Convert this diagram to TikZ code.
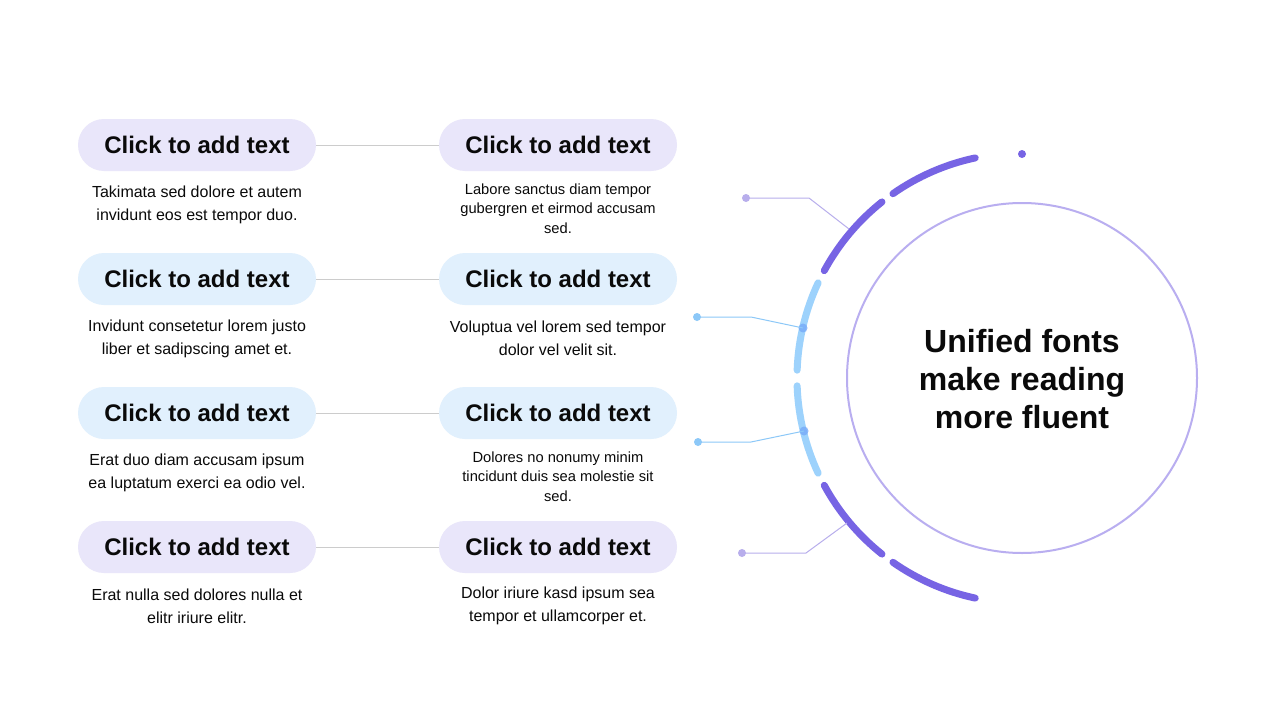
\documentclass[tikz,border=0pt]{standalone}
\usepackage{fontspec}
\setmainfont{Liberation Sans}
\definecolor{segpurple}{HTML}{7764E4}
\definecolor{segblue}{HTML}{9DD2FC}
\definecolor{ringlav}{HTML}{B9AEF0}
\definecolor{pilllav}{HTML}{E9E6FA}
\definecolor{pillblue}{HTML}{E1F0FD}
\definecolor{linkgrey}{HTML}{CCCCCC}
\definecolor{leadlav}{HTML}{B8AEEC}
\definecolor{leadblue}{HTML}{8CC8F8}
\definecolor{txt}{HTML}{0A0A0A}
\begin{document}
\begin{tikzpicture}[x=1pt,y=-1pt,
  pill/.style={rectangle,rounded corners=26pt,minimum width=238pt,minimum height=52pt,inner sep=0pt,
    font=\fontsize{24}{29}\selectfont\bfseries,text=txt},
  lavpill/.style={pill,fill=pilllav},
  bluepill/.style={pill,fill=pillblue},
  body/.style={align=center,inner sep=0pt,text=txt,font=\fontsize{16}{23}\selectfont},
  bodysmall/.style={align=center,inner sep=0pt,text=txt,font=\fontsize{14.7}{19.5}\selectfont},
  link/.style={draw=linkgrey,line width=1pt},
  seg/.style={line width=7pt,line cap=round},
  leadL/.style={draw=leadlav,line width=1pt},
  leadB/.style={draw=leadblue,line width=1pt},
  dotL/.style={circle,fill=leadlav,inner sep=0pt,minimum size=8pt},
  dotB/.style={circle,fill=leadblue,inner sep=0pt,minimum size=8pt},
  dotArc/.style={circle,fill=leadblue!85!blue,fill opacity=0.8,inner sep=0pt,minimum size=9pt}
]
\useasboundingbox[fill=white] (0,0) rectangle (1280,720);

% pills
\node[lavpill]  (l1) at (197,145) {Click to add text};
\node[lavpill]  (r1) at (558,145) {Click to add text};
\node[bluepill] (l2) at (197,279) {Click to add text};
\node[bluepill] (r2) at (558,279) {Click to add text};
\node[bluepill] (l3) at (197,413) {Click to add text};
\node[bluepill] (r3) at (558,413) {Click to add text};
\node[lavpill]  (l4) at (197,547) {Click to add text};
\node[lavpill]  (r4) at (558,547) {Click to add text};
\draw[link] (l1) -- (r1);
\draw[link] (l2) -- (r2);
\draw[link] (l3) -- (r3);
\draw[link] (l4) -- (r4);

% body texts
\node[body] (tl1) at (197,204.5) {Takimata sed dolore et autem\\invidunt eos est tempor duo.};
\node[bodysmall] (tr1) at (558,208.5) {Labore sanctus diam tempor\\gubergren et eirmod accusam\\sed.};
\node[body] (tl2) at (197,338.5) {Invidunt consetetur lorem justo\\liber et sadipscing amet et.};
\node[body] (tr2) at (558,338) {Voluptua vel lorem sed tempor\\dolor vel velit sit.};
\node[body] (tl3) at (197,472.5) {Erat duo diam accusam ipsum\\ea luptatum exerci ea odio vel.};
\node[bodysmall] (tr3) at (558,476.5) {Dolores no nonumy minim\\tincidunt duis sea molestie sit\\sed.};
\node[body] (tl4) at (197,606) {Erat nulla sed dolores nulla et\\elitr iriure elitr.};
\node[body] (tr4) at (558,606) {Dolor iriure kasd ipsum sea\\tempor et ullamcorper et.};

% central circle
\coordinate (c) at (1022,378);
\node[circle,draw=ringlav,line width=2pt,minimum size=350pt,inner sep=0pt] (ring) at (c) {};
\node[align=center,text=txt,font=\fontsize{32}{38}\selectfont\bfseries] (title) at (1022,379)
  {Unified fonts\\make reading\\more fluent};

% outer segmented arc
\draw[seg,segpurple] ([shift={(102:225)}]c) arc[start angle=102,end angle=125,radius=225];
\draw[seg,segpurple] ([shift={(128.5:225)}]c) arc[start angle=128.5,end angle=151.5,radius=225];
\draw[seg,segblue]   ([shift={(155:225)}]c) arc[start angle=155,end angle=178,radius=225];
\draw[seg,segblue]   ([shift={(182:225)}]c) arc[start angle=182,end angle=205,radius=225];
\draw[seg,segpurple] ([shift={(208.5:225)}]c) arc[start angle=208.5,end angle=231.5,radius=225];
\draw[seg,segpurple] ([shift={(235:225)}]c) arc[start angle=235,end angle=258,radius=225];
\node[circle,fill=segpurple,inner sep=0pt,minimum size=8pt] (topdot) at (1022,154) {};

% leader lines
\node[dotL] (d1) at (746,198) {};
\coordinate (b1) at (809,198);
\coordinate (e1) at (849,229);
\draw[leadL] (d1.center) -- (b1) -- (e1);

\node[dotB] (d2) at (697,317) {};
\coordinate (b2) at (751,317);
\node[dotArc] (e2) at (803,328) {};
\draw[leadB] (d2.center) -- (b2) -- (e2.center);

\node[dotB] (d3) at (698,442) {};
\coordinate (b3) at (751,442);
\node[dotArc] (e3) at (804,431) {};
\draw[leadB] (d3.center) -- (b3) -- (e3.center);

\node[dotL] (d4) at (742,553) {};
\coordinate (b4) at (806,553);
\coordinate (e4) at (847,523);
\draw[leadL] (d4.center) -- (b4) -- (e4);
\end{tikzpicture}
\end{document}
